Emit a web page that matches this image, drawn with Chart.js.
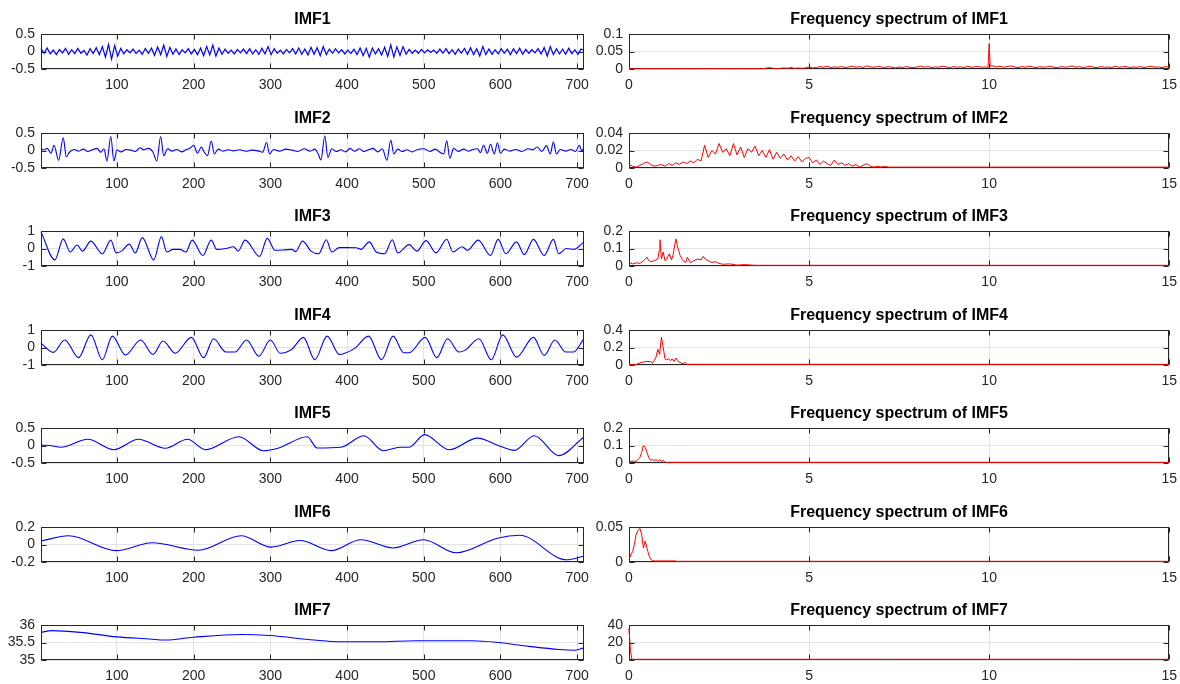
<!DOCTYPE html>
<html>
<head>
<meta charset="utf-8">
<script src="https://cdn.jsdelivr.net/npm/chart.js@4.4.1/dist/chart.umd.min.js"></script>
<style>
  body { margin: 0; background: #fff; width: 1180px; height: 684px; position: relative; overflow: hidden; }
  canvas { position: absolute; }
</style>
</head>
<body>
<script>
// ---- data ----
const imfTitles = ['IMF1', 'IMF2', 'IMF3', 'IMF4', 'IMF5', 'IMF6', 'IMF7'];
const timeTicks = [100, 200, 300, 400, 500, 600, 700];
const freqTicks = [0, 5, 10, 15];
const imfYTicks = [[-0.5, 0, 0.5], [-0.5, 0, 0.5], [-1, 0, 1], [-1, 0, 1], [-0.5, 0, 0.5], [-0.2, 0, 0.2], [35, 35.5, 36]];
const specYTicks = [[0, 0.05, 0.1], [0, 0.02, 0.04], [0, 0.1, 0.2], [0, 0.2, 0.4], [0, 0.1, 0.2], [0, 0.05], [0, 20, 40]];

// IMF1: every 4th sample from sample 1
const imf1Start = 1, imf1Step = 4;
const imf1 = [
  0.08,-0.05,0.10,-0.07,0.04,-0.09,0.06,-0.04,0.09,-0.08,
  0.05,-0.06,0.09,-0.05,0.03,-0.10,0.08,-0.06,0.11,-0.09,
  0.14,-0.16,0.20,-0.22,0.17,-0.13,0.09,-0.07,0.05,-0.04,
  0.07,-0.06,0.04,-0.08,0.09,-0.05,0.10,-0.11,0.13,-0.09,
  0.18,-0.14,0.12,-0.08,0.07,-0.09,0.05,-0.04,0.08,-0.07,
  0.06,-0.09,0.10,-0.12,0.14,-0.10,0.18,-0.13,0.10,-0.08,
  0.07,-0.05,0.04,-0.07,0.06,-0.04,0.07,-0.06,0.08,-0.07,
  0.05,-0.08,0.09,-0.07,0.14,-0.09,0.08,-0.05,0.04,-0.07,
  0.06,-0.04,0.08,-0.07,0.10,-0.08,0.07,-0.10,0.12,-0.08,
  0.11,-0.12,0.14,-0.09,0.07,-0.05,0.08,-0.04,0.05,-0.07,
  0.04,-0.06,0.07,-0.09,0.10,-0.12,0.09,-0.16,0.10,-0.07,
  0.08,-0.10,0.12,-0.14,0.19,-0.16,0.13,-0.11,0.14,-0.08,
  0.06,-0.05,0.04,-0.05,0.06,-0.04,0.05,-0.03,0.04,-0.05,
  0.07,-0.05,0.08,-0.06,0.05,-0.08,0.07,-0.05,0.09,-0.08,
  0.11,-0.09,0.08,-0.13,0.14,-0.09,0.07,-0.08,0.05,-0.07,
  0.08,-0.05,0.07,-0.09,0.08,-0.06,0.09,-0.08,0.06,-0.05,
  0.05,-0.04,0.08,-0.07,0.11,-0.13,0.14,-0.09,0.08,-0.07,
  0.07,-0.08,0.09,-0.06,0.05,-0.08,0.07,0.03
];

const imf2T = [
  1,5,9,14,18,24,30,34,38,44,
  50,56,62,68,74,79,83,87,92,96,
  100,105,112,118,124,130,135,141,147,152,
  157,161,166,172,178,184,190,196,200,205,
  210,214,218,223,227,232,238,245,252,260,
  268,276,284,290,295,299,304,312,320,328,
  336,344,352,358,362,366,371,375,380,386,
  392,398,404,410,416,422,428,434,440,446,
  452,457,461,466,472,478,485,492,500,508,
  515,521,526,530,534,539,545,552,558,564,
  570,574,578,583,587,592,596,600,605,612,
  620,628,636,642,648,654,660,665,669,673,
  678,685,692,698,703,706,708
];
const imf2V = [
  0.05,0.02,0.06,-0.08,0.15,-0.28,0.36,-0.18,-0.05,0.03,
  -0.02,0.04,-0.03,0.02,0.06,-0.05,0.05,-0.30,0.40,-0.30,
  0.02,-0.04,0.03,0.01,-0.03,0.08,0.02,0.06,-0.05,-0.30,
  0.40,-0.15,0.05,-0.02,0.03,-0.04,0.02,0.08,0.15,-0.08,
  0.10,-0.05,-0.15,0.27,-0.10,0.04,-0.02,0.02,-0.01,0.02,
  -0.02,0.01,-0.01,-0.05,0.23,-0.10,0.03,-0.02,0.04,0.01,
  -0.03,0.05,-0.02,0.04,-0.08,-0.27,0.42,-0.20,0.05,-0.03,
  0.02,-0.04,0.06,-0.02,0.05,-0.03,0.02,0.06,-0.04,0.05,
  -0.28,0.30,-0.10,0.04,-0.03,0.02,-0.04,0.03,0.05,-0.03,
  0.04,-0.05,-0.10,0.28,-0.22,0.06,-0.03,0.04,-0.02,0.03,
  0.05,-0.06,0.15,-0.08,0.18,-0.10,0.22,-0.08,0.04,-0.02,
  0.03,-0.03,0.05,0.02,0.10,-0.03,0.14,-0.10,0.25,-0.10,
  0.03,-0.02,0.03,-0.03,0.15,-0.02,0.05
];

const imf3T = [
  1,19,30,39,48,55,66,81,92,99,
  106,116,124,133,148,158,165,173,182,190,
  198,212,223,230,242,252,258,267,286,296,
  306,318,328,333,342,353,363,373,380,390,
  400,412,418,429,438,449,459,466,481,491,
  503,516,530,538,550,557,571,587,597,607,
  621,631,643,657,669,676,686,696,708
];
const imf3V = [
  0.95,-0.65,0.55,-0.2,0.2,-0.15,0.42,-0.3,0.48,-0.25,
  -0.15,0.25,-0.25,0.62,-0.65,0.68,-0.2,-0.05,-0.05,-0.2,
  0.48,-0.4,0.48,-0.05,0.0,0.1,-0.15,0.48,-0.45,0.58,
  -0.1,-0.08,-0.05,-0.18,0.42,-0.15,-0.3,0.5,-0.2,0.05,
  0.05,0.04,-0.05,0.38,-0.2,-0.3,0.5,-0.25,0.22,-0.15,
  0.45,-0.25,0.53,-0.2,0.1,-0.1,0.48,-0.4,0.52,-0.3,
  0.38,-0.35,0.52,-0.4,0.52,-0.3,0.0,-0.05,0.35
];

const imf4T = [
  1,17,32,50,66,81,94,111,131,147,
  160,176,197,213,226,242,254,269,285,300,
  313,328,343,358,374,390,397,410,428,445,
  460,474,481,502,517,531,546,554,572,588,
  603,621,643,657,671,685,695,708
];
const imf4V = [
  0.25,-0.28,0.43,-0.58,0.72,-0.7,0.65,-0.43,0.43,-0.4,
  0.37,-0.33,0.58,-0.58,0.5,-0.26,-0.26,0.43,-0.5,0.43,
  -0.33,-0.1,0.58,-0.7,0.65,-0.4,-0.33,-0.05,0.65,-0.7,
  0.65,-0.3,-0.3,0.58,-0.58,0.5,-0.26,-0.15,0.5,-0.7,
  0.72,-0.55,0.58,-0.45,0.43,-0.26,-0.26,0.45
];

const imf5T = [
  1,12,27,62,96,128,163,192,215,259,
  291,311,348,361,392,422,447,469,481,501,
  533,570,597,618,644,676,708
];
const imf5V = [
  0.01,0.0,-0.05,0.18,-0.12,0.18,-0.08,0.18,-0.12,0.25,
  -0.15,-0.07,0.25,-0.07,-0.05,0.28,-0.15,-0.05,-0.05,0.31,
  -0.12,0.21,0.0,-0.14,0.28,-0.29,0.23
];

const imf6T = [1,37,99,146,206,262,301,339,379,418,460,500,542,597,625,686,708];
const imf6V = [0.04,0.1,-0.07,0.02,-0.065,0.1,-0.03,0.045,-0.07,0.055,-0.04,0.055,-0.095,0.075,0.105,-0.175,-0.135];

const imf7T = [1,15,52,100,143,163,200,262,299,357,391,440,489,563,597,637,676,696,708];
const imf7V = [35.79,35.84,35.79,35.66,35.6,35.57,35.65,35.73,35.7,35.57,35.52,35.52,35.55,35.55,35.5,35.39,35.3,35.28,35.34];

// spectra (frequency 0..15)
const spec1Start = 0, spec1Step = 0.1;
const spec1 = [
  0.001,0.001,0.001,0.001,0.001,0.001,0.001,0.001,0.001,0.001,
  0.001,0.001,0.001,0.001,0.001,0.001,0.001,0.001,0.001,0.001,
  0.001,0.001,0.001,0.001,0.001,0.001,0.001,0.001,0.001,0.001,
  0.001,0.001,0.001,0.001,0.001,0.001,0.001,0.001,0.002,0.004,
  0.002,0.001,0.002,0.003,0.002,0.004,0.002,0.003,0.002,0.003,
  0.006,0.003,0.004,0.007,0.005,0.008,0.004,0.006,0.005,0.007,
  0.004,0.006,0.008,0.005,0.007,0.004,0.009,0.006,0.005,0.007,
  0.006,0.004,0.007,0.005,0.003,0.006,0.004,0.007,0.005,0.004,
  0.006,0.008,0.005,0.007,0.004,0.006,0.005,0.008,0.006,0.004,
  0.007,0.005,0.006,0.004,0.008,0.005,0.006,0.007,0.005,0.006,
  0.073,0.009,0.006,0.008,0.005,0.007,0.009,0.006,0.004,0.007,
  0.005,0.008,0.006,0.004,0.007,0.005,0.006,0.008,0.005,0.004,
  0.007,0.005,0.006,0.009,0.005,0.007,0.004,0.006,0.008,0.005,
  0.004,0.007,0.005,0.006,0.004,0.008,0.005,0.006,0.007,0.004,
  0.006,0.005,0.007,0.004,0.006,0.008,0.005,0.006,0.004,0.007,
  0.005
];
const spec1PeakF = [9.97, 10.03];
const spec1PeakA = [0.004, 0.008];

const spec2Start = 0, spec2Step = 0.1;
const spec2 = [
  0.004,0.002,0.001,0.003,0.005,0.007,0.004,0.002,0.003,0.004,
  0.002,0.005,0.003,0.006,0.004,0.007,0.005,0.008,0.006,0.01,
  0.008,0.026,0.012,0.02,0.016,0.028,0.018,0.022,0.014,0.028,
  0.015,0.024,0.012,0.022,0.018,0.025,0.014,0.02,0.012,0.021,
  0.01,0.018,0.011,0.016,0.009,0.014,0.008,0.013,0.007,0.011,
  0.012,0.006,0.009,0.004,0.008,0.005,0.003,0.009,0.004,0.006,
  0.003,0.005,0.002,0.004,0.001,0.003,0.005,0.002,0.001,0.002,
  0.001,0.002,0.001,0.001
];
const spec2TailF = [7.4, 15];
const spec2TailA = [0.001, 0.001];

const spec3F = [
  0,0.1,0.2,0.3,0.4,0.5,0.55,0.6,0.7,0.8,
  0.84,0.86,0.9,0.95,1.0,1.05,1.12,1.18,1.22,1.3,
  1.35,1.42,1.5,1.58,1.62,1.7,1.8,1.9,2.0,2.06,
  2.12,2.2,2.3,2.4,2.5,2.6,2.8,3.0,3.2,3.5,15
];
const spec3A = [
  0.02,0.012,0.018,0.015,0.03,0.05,0.03,0.025,0.03,0.04,
  0.09,0.15,0.04,0.08,0.03,0.04,0.07,0.035,0.06,0.155,
  0.11,0.06,0.03,0.02,0.05,0.02,0.03,0.04,0.035,0.055,
  0.04,0.03,0.02,0.025,0.015,0.01,0.012,0.005,0.008,0.004,0.004
];

const spec4F = [
  0,0.2,0.3,0.4,0.5,0.6,0.65,0.7,0.75,0.8,
  0.85,0.9,0.95,1.0,1.05,1.1,1.15,1.2,1.25,1.3,
  1.35,1.4,1.5,1.55,1.6,1.7,15
];
const spec4A = [
  0.005,0.005,0.025,0.035,0.04,0.04,0.02,0.05,0.09,0.18,
  0.12,0.32,0.2,0.07,0.06,0.07,0.05,0.07,0.04,0.08,
  0.05,0.03,0.015,0.03,0.008,0.008,0.008
];

const spec5F = [0,0.2,0.3,0.35,0.4,0.45,0.5,0.55,0.6,0.65,0.7,0.75,0.8,0.85,0.9,0.95,1.0,15];
const spec5A = [0.01,0.01,0.03,0.06,0.1,0.09,0.06,0.03,0.015,0.022,0.012,0.02,0.01,0.018,0.008,0.016,0.004,0.004];

const spec6F = [0,0.05,0.1,0.15,0.2,0.25,0.3,0.35,0.4,0.45,0.5,0.55,0.6,0.65,0.7,1.3,1.32,15];
const spec6A = [0.003,0.01,0.015,0.025,0.04,0.045,0.048,0.04,0.02,0.03,0.02,0.01,0.004,0.002,0.0015,0.0015,0.001,0.001];

const spec7F = [0, 0.01, 0.04, 0.08, 0.12, 15];
const spec7A = [36, 30, 11, 0.8, 0.8, 0.8];

// ---- helpers ----
function pairs(xs, ys) {
  return xs.map((x, i) => ({ x: x, y: ys[i] }));
}
function stepped(start, step, vals) {
  return vals.map((v, i) => ({ x: +(start + step * i).toFixed(4), y: v }));
}
function merged(a, b) {
  return a.concat(b).sort((p, q) => p.x - q.x);
}

const timeSeries = [
  stepped(imf1Start, imf1Step, imf1),
  pairs(imf2T, imf2V),
  pairs(imf3T, imf3V),
  pairs(imf4T, imf4V),
  pairs(imf5T, imf5V),
  pairs(imf6T, imf6V),
  pairs(imf7T, imf7V)
];
const spectra = [
  merged(stepped(spec1Start, spec1Step, spec1), pairs(spec1PeakF, spec1PeakA)),
  merged(stepped(spec2Start, spec2Step, spec2), pairs(spec2TailF, spec2TailA)),
  pairs(spec3F, spec3A),
  pairs(spec4F, spec4A),
  pairs(spec5F, spec5A),
  pairs(spec6F, spec6A),
  pairs(spec7F, spec7A)
];

const FONT = "'Liberation Sans', Arial, Helvetica, sans-serif";
const AXIS_COLOR = '#262626';
const GRID_COLOR = '#e3e3e3';

// matlab style box with inward tick marks
const boxFrame = {
  id: 'boxFrame',
  beforeDatasetsDraw(chart) {
    const { ctx, chartArea: a, scales } = chart;
    const L = Math.round(a.left) + 0.5, R = Math.round(a.right) - 0.5;
    const T = Math.round(a.top) + 0.5, B = Math.round(a.bottom) - 0.5;
    ctx.save();
    ctx.strokeStyle = AXIS_COLOR;
    ctx.lineWidth = 1;
    ctx.strokeRect(L, T, R - L, B - T);
    ctx.beginPath();
    scales.x.ticks.forEach(t => {
      const px = Math.round(scales.x.getPixelForValue(t.value)) + 0.5;
      ctx.moveTo(px, T); ctx.lineTo(px, T + 5);
      ctx.moveTo(px, B); ctx.lineTo(px, B - 5);
    });
    scales.y.ticks.forEach(t => {
      const py = Math.round(scales.y.getPixelForValue(t.value)) + 0.5;
      ctx.moveTo(L, py); ctx.lineTo(L + 5, py);
      ctx.moveTo(R, py); ctx.lineTo(R - 5, py);
    });
    ctx.stroke();
    ctx.restore();
  }
};

function buildChart(o) {
  const canvas = document.createElement('canvas');
  canvas.width = o.w;
  canvas.height = 90;
  canvas.style.left = o.left + 'px';
  canvas.style.top = o.top + 'px';
  document.body.appendChild(canvas);

  const tickFont = { family: FONT, size: 14 };
  new Chart(canvas.getContext('2d'), {
    type: 'line',
    data: {
      datasets: [{
        data: o.data,
        borderColor: o.color,
        borderWidth: o.lineWidth,
        pointRadius: 0,
        fill: false,
        tension: o.smooth ? 0.4 : 0,
        cubicInterpolationMode: o.smooth ? 'monotone' : 'default',
        clip: false
      }]
    },
    options: {
      responsive: false,
      animation: false,
      events: [],
      layout: { padding: { left: 0, right: 0, top: 0, bottom: 0 } },
      plugins: {
        legend: { display: false },
        tooltip: { enabled: false },
        title: {
          display: true,
          text: o.title,
          fullSize: false,
          color: '#000',
          font: { family: FONT, size: 16, weight: 'bold' },
          padding: { top: 4, bottom: 4.8 }
        }
      },
      scales: {
        x: {
          type: 'linear',
          min: o.xMin,
          max: o.xMax,
          afterBuildTicks: s => { s.ticks = o.xTicks.map(v => ({ value: v })); },
          afterFit: s => { s.height = 27; },
          ticks: { autoSkip: false, maxRotation: 0, padding: 8, color: AXIS_COLOR, font: tickFont, callback: v => String(v) },
          grid: { color: GRID_COLOR, drawTicks: false },
          border: { display: false }
        },
        y: {
          min: o.yTicks[0],
          max: o.yTicks[o.yTicks.length - 1],
          afterBuildTicks: s => { s.ticks = o.yTicks.map(v => ({ value: v })); },
          afterFit: s => { s.width = 41; },
          ticks: { autoSkip: false, padding: 6, color: AXIS_COLOR, font: tickFont, callback: v => String(v) },
          grid: { color: GRID_COLOR, drawTicks: false },
          border: { display: false }
        }
      }
    },
    plugins: [boxFrame]
  });
}

for (let r = 0; r < 7; r++) {
  const top = Math.round(6 + 98.5 * r);
  buildChart({
    left: 0, top: top, w: 597,
    title: imfTitles[r],
    data: timeSeries[r],
    color: '#0000ff',
    lineWidth: r === 0 ? 1.2 : 1.1,
    xMin: 1, xMax: 709, xTicks: timeTicks,
    yTicks: imfYTicks[r],
    smooth: r > 0
  });
  buildChart({
    left: 588, top: top, w: 597,
    title: 'Frequency spectrum of ' + imfTitles[r],
    data: spectra[r],
    color: '#ff0000',
    lineWidth: 1,
    xMin: 0, xMax: 15, xTicks: freqTicks,
    yTicks: specYTicks[r],
    smooth: false
  });
}
</script>
</body>
</html>
